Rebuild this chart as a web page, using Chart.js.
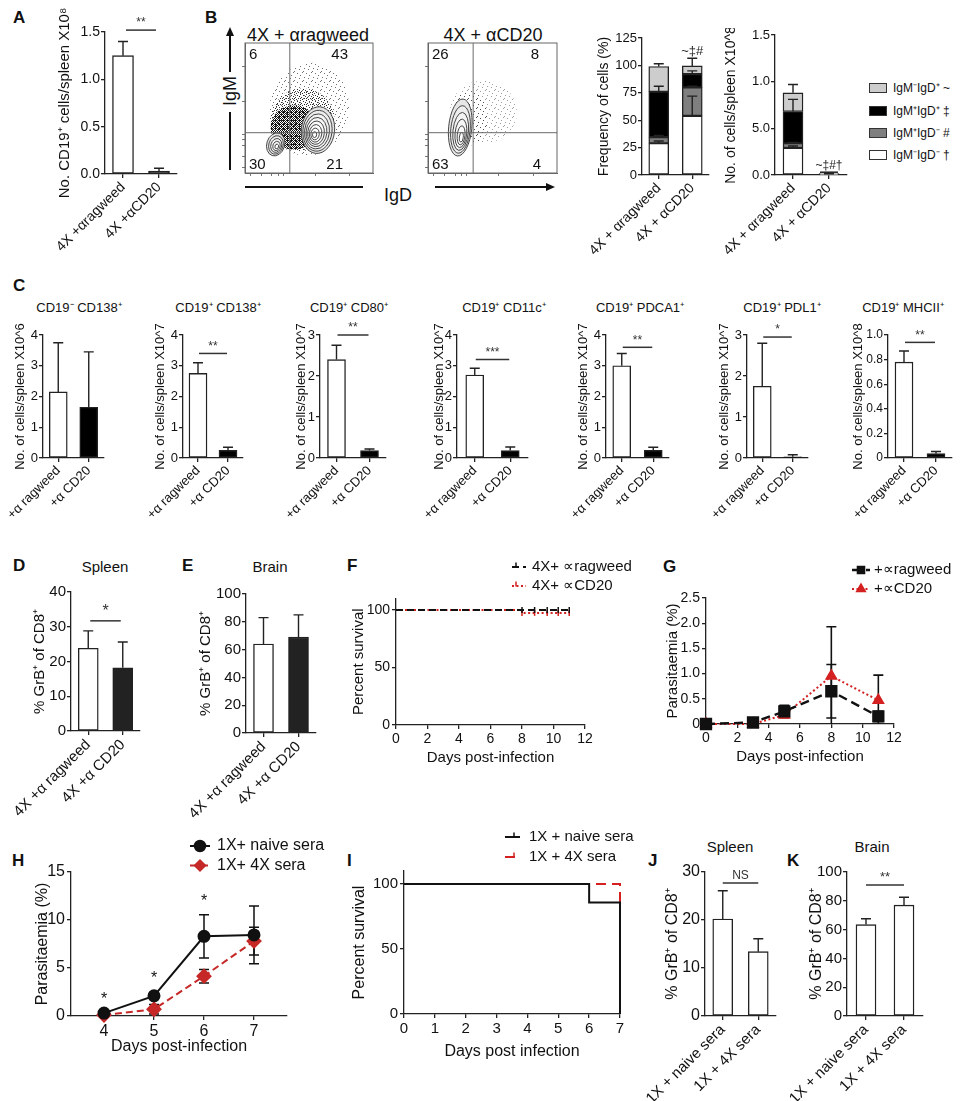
<!DOCTYPE html>
<html>
<head>
<meta charset="utf-8">
<title>B cell depletion figure</title>
<script src="https://cdn.jsdelivr.net/npm/chart.js@4.4.1/dist/chart.umd.min.js"></script>
<style>
  body { margin: 0; background: #fff; }
  #fig { position: relative; width: 963px; height: 1101px; overflow: hidden; background: #fff;
         font-family: 'Liberation Sans', Arial, Helvetica, sans-serif; color: #111; }
  .t { position: absolute; white-space: nowrap; transform: translate(-50%, -50%); line-height: 1; }
  .lt { position: absolute; font-weight: bold; font-size: 17px; line-height: 1; }
  .ln { position: absolute; background: #111; }
  canvas { position: absolute; }
</style>
</head>
<body>
<div id="fig"></div>
<script>
// --- Data ---

// A: CD19+ cells per spleen (x10^8)
const aGroups = ['4X +αragweed', '4X +αCD20'];
const aCells = [1.25, 0.03];
const aCellsErr = [0.15, 0.03];
const aSig = '**';
const aSigY = 1.52;

// B: flow plots (IgD on x, IgM on y, axis units 0-100)
const flowTitles = ['4X + αragweed', '4X + αCD20'];
const flowRagweedQuads = ['6', '43', '30', '21'];
const flowCD20Quads = ['26', '8', '63', '4'];
const flowGate = [35, 31];
const flowTicks = [4, 13, 21, 26, 30, 55, 82];
// cell clouds: [centre x, centre y, radius x, radius y, tilt]
const flowRagweedCloud = [[50, 49, 31, 36, 0.2], [45, 41, 25, 24, 0], [38, 35, 18, 17, 0]];
const flowCD20Cloud = [[43, 47, 26, 24, 0], [32, 42, 14, 21, 0]];
// contour peaks: [centre x, centre y, radius x, radius y, tilt, rings, shift x, shift y]
const flowRagweedPeaks = [[57, 33, 13, 18, 0.1, 8, -3, -4], [24, 22, 7, 9, 0.3, 5, 1, -2]];
const flowCD20Peaks = [[25, 35, 9, 22, 0.1, 6, 1, -9]];

// B: IgM/IgD subsets, listed bottom to top of the stack
const bGroups = ['4X + αragweed', '4X + αCD20'];
const bSubsets = ['IgM⁻IgD⁻ †', 'IgM⁺IgD⁻ #', 'IgM⁺IgD⁺ ‡', 'IgM⁻IgD⁺ ~'];
const bFreqMnegDneg = [29, 54];
const bFreqMposDneg = [5.5, 26];
const bFreqMposDpos = [41.5, 12];
const bFreqMnegDpos = [23, 7.5];
const bFreqMnegDnegErr = [2, 18];
const bFreqMposDnegErr = [1.5, 1];
const bFreqMposDposErr = [5, 3];
const bFreqMnegDposErr = [2.5, 7];
const bFreqNote = '~‡#';
const bCountMnegDneg = [0.29, 0.004];
const bCountMposDneg = [0.05, 0.002];
const bCountMposDpos = [0.34, 0.004];
const bCountMnegDpos = [0.20, 0.004];
const bCountMnegDnegErr = [0.02, 0];
const bCountMposDnegErr = [0.01, 0];
const bCountMposDposErr = [0.13, 0.002];
const bCountMnegDposErr = [0.09, 0.004];
const bCountTickText = ['0.0', '5.0', '1.0', '1.5'];
const bCountNote = '~‡#†';

// C: B cell subsets per spleen
const cGroups = ['+α ragweed', '+α CD20'];
const cTitles = ['CD19⁻ CD138⁺', 'CD19⁺ CD138⁺', 'CD19⁺ CD80⁺', 'CD19⁺ CD11c⁺', 'CD19⁺ PDCA1⁺', 'CD19⁺ PDL1⁺', 'CD19⁺ MHCII⁺'];
const cUnits = ['X10^6', 'X10^7', 'X10^7', 'X10^7', 'X10^7', 'X10^7', 'X10^8'];
const cRagweed = [2.15, 2.75, 2.4, 2.7, 3.0, 1.75, 0.78];
const cRagweedErr = [1.6, 0.35, 0.35, 0.22, 0.4, 1.05, 0.09];
const cCD20 = [1.65, 0.25, 0.18, 0.24, 0.25, 0.03, 0.035];
const cCD20Err = [1.8, 0.1, 0.04, 0.12, 0.1, 0.05, 0.018];
const cYMax = [4, 4, 3, 4, 4, 3, 1.0];
const cYStep = [1, 1, 1, 1, 1, 1, 0.2];
const cSig = ['', '**', '**', '***', '**', '*', '**'];
const cSigY = [0, 3.4, 3.0, 3.2, 3.6, 2.95, 0.94];

// D/E: % GrB+ of CD8+
const deGroups = ['4X +α ragweed', '4X +α CD20'];
const dGrB = [23.8, 18.2];
const dGrBErr = [5, 7.4];
const dSigY = 31.7;
const eGrB = [64, 69];
const eGrBErr = [19, 16];

// F: survival after depletion
const fSeries = ['4X+ ∝ragweed', '4X+ ∝CD20'];
const fRagweedDays = [0, 8, 8.8, 9.6, 10.3, 11];
const fRagweedSurv = [100, 100, 100, 100, 100, 100];
const fCD20Days = [0, 8, 8.8, 9.6, 10.3, 11];
const fCD20Surv = [100, 97.5, 97.5, 97.5, 97.5, 97.5];
const survivalTicks = [0, 50, 100];

// G: parasitaemia after depletion
const gSeries = ['+∝ragweed', '+∝CD20'];
const gDays = [0, 3, 5, 8, 11];
const gRagweed = [0, 0.03, 0.25, 0.65, 0.15];
const gRagweedErr = [0, 0.02, 0.12, 0.53, 0.1];
const gCD20 = [0, 0, 0.18, 0.95, 0.47];
const gCD20Err = [0, 0, 0.05, 0.98, 0.5];

// H: parasitaemia after serum transfer
const hSeries = ['1X+ naive sera', '1X+ 4X sera'];
const hDays = [4, 5, 6, 7];
const hNaive = [0.3, 2.1, 8.3, 8.45];
const hNaiveErr = [0.2, 0.35, 2.25, 3.0];
const h4X = [0.1, 0.7, 4.15, 7.8];
const h4XErr = [0.05, 0.5, 0.7, 1.45];
const hStarY = [1.7, 3.85, 11.9];

// I: survival after serum transfer
const iSeries = ['1X + naive sera', '1X + 4X sera'];
const iNaiveDays = [0, 6, 7];
const iNaive = [100, 85.7, 0];
const i4XDays = [0, 7, 7];
const i4X = [100, 100, 0];

// J/K: % GrB+ of CD8+ after serum transfer
const jkGroups = ['1X + naive sera', '1X + 4X sera'];
const jGrB = [20.2, 13.4];
const jGrBErr = [5.9, 2.7];
const jSig = 'NS';
const jSigY = 27.7;
const kGrB = [63.5, 77];
const kGrBErr = [4, 5.5];
const kSig = '**';
const kSigY = 91;

// --- Plugins ---
const FONT = "'Liberation Sans', Arial, Helvetica, sans-serif";
Chart.defaults.font.family = FONT;
Chart.defaults.color = '#111';

function drawErrors(chart) {
  const { ctx, scales: { y } } = chart;
  chart.data.datasets.forEach((ds, di) => {
    if (!ds.err) return;
    const meta = chart.getDatasetMeta(di);
    ctx.save();
    ctx.setLineDash([]);
    ctx.strokeStyle = ds.errColor || '#222';
    ctx.lineWidth = ds.errWidth || 1.4;
    meta.data.forEach((el, i) => {
      const e = ds.err[i];
      if (!e) return;
      const v = y.getValueForPixel(el.y);
      const cap = ds.errCap || 5;
      const top = y.getPixelForValue(v + e);
      ctx.beginPath();
      ctx.moveTo(el.x, el.y); ctx.lineTo(el.x, top);
      ctx.moveTo(el.x - cap, top); ctx.lineTo(el.x + cap, top);
      if (ds.errBoth) {
        const bot = y.getPixelForValue(Math.max(v - e, y.min));
        ctx.moveTo(el.x, el.y); ctx.lineTo(el.x, bot);
        if (v - e > y.min) { ctx.moveTo(el.x - cap, bot); ctx.lineTo(el.x + cap, bot); }
      }
      ctx.stroke();
    });
    ctx.restore();
  });
}

const errorBars = {
  id: 'errorBars',
  beforeDatasetsDraw(chart, args, o) { if (o.before) drawErrors(chart); },
  afterDatasetsDraw(chart, args, o) { if (!o.before) drawErrors(chart); }
};

// significance bars, stars and notes
const marks = {
  id: 'marks',
  afterDatasetsDraw(chart, args, o) {
    if (!o.items) return;
    const { ctx, scales: { x, y } } = chart;
    o.items.forEach(m => {
      ctx.save();
      ctx.fillStyle = ctx.strokeStyle = m.color || '#333';
      ctx.font = (m.size || 12) + 'px ' + FONT;
      ctx.textAlign = 'center';
      const py = y.getPixelForValue(m.y);
      if (m.x1 !== undefined) {
        const a = x.getPixelForValue(m.x0) + (m.inset || 0);
        const b = x.getPixelForValue(m.x1) - (m.inset || 0);
        ctx.lineWidth = 1.5;
        ctx.beginPath(); ctx.moveTo(a, py); ctx.lineTo(b, py); ctx.stroke();
        ctx.textBaseline = 'bottom';
        ctx.fillText(m.text, (a + b) / 2, py - 1);
      } else {
        ctx.textBaseline = 'middle';
        ctx.fillText(m.text, x.getPixelForValue(m.x), py);
      }
      ctx.restore();
    });
  }
};

// small legend drawn from the dataset styles, placed in page pixels
const key = {
  id: 'key',
  afterDraw(chart, args, o) {
    if (!o.rows) return;
    const ctx = chart.ctx;
    const ox = parseFloat(chart.canvas.style.left), oy = parseFloat(chart.canvas.style.top);
    o.rows.forEach((row, i) => {
      const ds = chart.data.datasets[i];
      const y = o.y + i * o.dy - oy, x0 = o.x - ox, x1 = x0 + o.len;
      ctx.save();
      ctx.strokeStyle = ds.borderColor;
      ctx.lineWidth = ds.borderWidth;
      ctx.setLineDash(ds.borderDash || []);
      ctx.beginPath(); ctx.moveTo(x0, y); ctx.lineTo(x1, y); ctx.stroke();
      ctx.setLineDash([]);
      ctx.fillStyle = ds.pointBackgroundColor || ds.borderColor;
      ctx.lineWidth = 1.5;
      Chart.helpers.drawPoint(ctx, { pointStyle: ds.pointStyle, radius: o.radius, rotation: ds.rotation || 0, borderWidth: 1 },
        o.mx !== undefined ? x0 + o.mx : (x0 + x1) / 2, o.my !== undefined ? y + o.my : y);
      ctx.fillStyle = '#111';
      ctx.font = o.size + 'px ' + FONT;
      ctx.textBaseline = 'middle';
      ctx.fillText(row, x1 + o.gap, y);
      ctx.restore();
    });
  }
};

// stipple textures for the flow clouds
const tiles = {};
function tile(name) {
  if (tiles[name]) return tiles[name];
  const spec = {
    sparse: [9, [[1, 1], [5, 2], [8, 5], [3, 6], [6, 8], [0, 4]]],
    medium: [6, [[0, 0], [3, 1], [1, 3], [4, 4], [5, 2], [2, 5], [0, 4]]],
    dense: [4, [[0, 0], [1, 1], [2, 2], [3, 3], [0, 2], [2, 0], [1, 3], [3, 1], [3, 0]]]
  }[name];
  const c = document.createElement('canvas');
  c.width = c.height = spec[0];
  const g = c.getContext('2d');
  g.fillStyle = '#111';
  spec[1].forEach(([px, py]) => g.fillRect(px, py, 1, 1));
  tiles[name] = c;
  return c;
}

const flow = {
  id: 'flow',
  beforeDatasetsDraw(chart, args, o) {
    if (!o.clouds) return;
    const { ctx, chartArea: a, scales: { x, y } } = chart;
    const ell = (cx, cy, rx, ry, rot) => {
      ctx.beginPath();
      ctx.ellipse(x.getPixelForValue(cx), y.getPixelForValue(cy),
        Math.abs(x.getPixelForValue(cx + rx) - x.getPixelForValue(cx)),
        Math.abs(y.getPixelForValue(cy + ry) - y.getPixelForValue(cy)), rot || 0, 0, Math.PI * 2);
    };
    ctx.save();
    ctx.beginPath(); ctx.rect(a.left, a.top, a.width, a.height); ctx.clip();
    o.clouds.forEach((c, i) => {
      ctx.fillStyle = ctx.createPattern(tile(o.density[i]), 'repeat');
      ctx.globalAlpha = o.alpha[i];
      ell(c[0], c[1], c[2], c[3], c[4]);
      ctx.fill();
    });
    ctx.globalAlpha = 1;
    o.peaks.forEach(p => {
      const n = p[5];
      for (let k = n; k >= 1; k--) {
        const f = k / n;
        ell(p[0] + (1 - f) * p[6], p[1] + (1 - f) * p[7], p[2] * f, p[3] * f, p[4]);
        ctx.fillStyle = k === n ? 'rgba(230,230,230,0.95)' : (k === 1 ? '#fff' : 'rgba(255,255,255,0.3)');
        ctx.fill();
        ctx.strokeStyle = '#333';
        ctx.lineWidth = 0.9;
        ctx.stroke();
      }
    });
    ctx.restore();
  },
  afterDraw(chart, args, o) {
    if (!o.quads) return;
    const { ctx, chartArea: a } = chart;
    ctx.save();
    ctx.strokeStyle = '#666';
    ctx.lineWidth = 1;
    ctx.strokeRect(a.left, a.top, a.width, a.height);
    ctx.fillStyle = '#111';
    ctx.font = '15px ' + FONT;
    ctx.textBaseline = 'top';
    ctx.textAlign = 'left'; ctx.fillText(o.quads[0], a.left + 4, a.top + 4);
    ctx.textAlign = 'right'; ctx.fillText(o.quads[1], a.right - o.inset[0], a.top + 4);
    ctx.textBaseline = 'bottom';
    ctx.textAlign = 'left'; ctx.fillText(o.quads[2], a.left + 4, a.bottom - 1);
    ctx.textAlign = 'right'; ctx.fillText(o.quads[3], a.right - o.inset[1], a.bottom - 1);
    ctx.restore();
  }
};

Chart.register(errorBars, marks, key, flow);

// --- Helpers ---
const fig = document.getElementById('fig');
const xy = (xs, ys) => xs.map((v, i) => ({ x: v, y: ys[i] }));

function text(str, x, y, size, extra) {
  const d = document.createElement('div');
  d.className = 't';
  d.textContent = str;
  d.style.left = x + 'px';
  d.style.top = y + 'px';
  d.style.fontSize = size + 'px';
  if (extra) Object.assign(d.style, extra);
  fig.appendChild(d);
  return d;
}

function letter(ch, x, capTop) {
  const d = document.createElement('div');
  d.className = 'lt';
  d.textContent = ch;
  d.style.left = x + 'px';
  d.style.top = (capTop - 3) + 'px';
  fig.appendChild(d);
}

function rule(l, t, w, h) {
  const d = document.createElement('div');
  d.className = 'ln';
  Object.assign(d.style, { left: l + 'px', top: t + 'px', width: w + 'px', height: h + 'px' });
  fig.appendChild(d);
  return d;
}

// area = plot area in page pixels, box = canvas in page pixels
function panel(area, box, cfg, yTitle, xTitle) {
  const [l, t, r, b] = area, [cl, ct, cr, cb] = box;
  const cv = document.createElement('canvas');
  cv.width = cr - cl;
  cv.height = cb - ct;
  cv.style.left = cl + 'px';
  cv.style.top = ct + 'px';
  fig.appendChild(cv);
  const o = cfg.options;
  Object.assign(o, { responsive: false, animation: false, devicePixelRatio: 1, events: [] });
  o.layout = { autoPadding: false, padding: { left: 0, top: t - ct, right: cr - r, bottom: 0 } };
  o.plugins = Object.assign({ legend: { display: false }, tooltip: { enabled: false } }, o.plugins);
  const sx = o.scales.x, sy = o.scales.y;
  sx.afterFit = s => { s.height = cb - b; s.paddingLeft = 0; s.paddingRight = 0; };
  sy.afterFit = s => { s.width = l - cl; s.paddingTop = 0; s.paddingBottom = 0; };
  if (yTitle) {
    sy.title = { display: true, text: yTitle.text, color: '#111', font: { size: yTitle.size },
      padding: { top: yTitle.x - yTitle.size * 0.6 - cl, bottom: 0 } };
  }
  if (xTitle) {
    sx.title = { display: true, text: xTitle.text, color: '#111', font: { size: xTitle.size },
      padding: { top: 0, bottom: cb - xTitle.y - xTitle.size * 0.6 } };
  }
  return new Chart(cv, cfg);
}

function axisGrid() {
  return { drawOnChartArea: false, drawTicks: true, tickLength: 4, color: '#222', lineWidth: 1.3, offset: false };
}
function axisBorder() {
  return { color: '#222', width: 1.3 };
}
function catAxis(size, stacked) {
  return { type: 'category', offset: true, stacked: !!stacked, grid: axisGrid(), border: axisBorder(),
    ticks: { font: { size }, minRotation: 45, maxRotation: 45, autoSkip: false, padding: 1, color: '#111' } };
}
function valAxis(max, step, size, fmt, stacked) {
  return { type: 'linear', min: 0, max, stacked: !!stacked, grid: axisGrid(), border: axisBorder(),
    ticks: { stepSize: step, font: { size }, padding: 1, color: '#111', callback: fmt } };
}
function linAxis(min, max, step, size, list) {
  const s = { type: 'linear', min, max, grid: axisGrid(), border: axisBorder(),
    ticks: { stepSize: step, font: { size }, padding: 2, color: '#111' } };
  if (list) s.afterBuildTicks = sc => { sc.ticks = list.map(v => ({ value: v })); };
  return s;
}
function barStyle(w) {
  return { borderColor: '#222', borderWidth: 1.4, borderSkipped: false, barThickness: w, errCap: 5 };
}

// two-bar panel (white vs black or white vs white)
function twoBars(area, box, groups, values, errs, colors, o) {
  return panel(area, box, {
    type: 'bar',
    data: { labels: groups, datasets: [Object.assign({ data: values, err: errs, backgroundColor: colors }, barStyle(o.barW))] },
    options: {
      plugins: { marks: { items: o.marks || [] } },
      scales: { x: catAxis(o.xFont), y: valAxis(o.max, o.step, o.tickFont, o.fmt) }
    }
  }, o.yTitle);
}

// --- Panel letters and titles ---
letter('A', 13, 12); letter('B', 205, 12); letter('C', 13, 280);
letter('D', 13, 560); letter('E', 182, 560); letter('F', 347, 560); letter('G', 663, 561);
letter('H', 12, 855); letter('I', 347, 855); letter('J', 648, 855); letter('K', 787, 855);

// --- A ---
twoBars([105, 32, 177, 174], [50, 5, 185, 272], aGroups, aCells, aCellsErr, ['#fff', '#000'], {
  barW: 21, xFont: 14, tickFont: 14, max: 1.5, step: 0.5, fmt: v => v.toFixed(1),
  marks: [{ x0: 0, x1: 1, y: aSigY, text: aSig, inset: 3 }],
  yTitle: { text: 'No. CD19⁺ cells/spleen X10⁸', size: 15, x: 65 }
});

// --- B flow plots ---
text(flowTitles[0], 308, 35, 18);
text(flowTitles[1], 493, 35, 18);
text('IgM', 230, 91, 18, { transform: 'translate(-50%, -50%) rotate(-90deg)' });
rule(229.3, 33, 1.5, 39);
const upHead = rule(226, 27, 0, 0);
Object.assign(upHead.style, { background: 'none', borderLeft: '4px solid transparent', borderRight: '4px solid transparent', borderBottom: '9px solid #111' });
rule(229.3, 112, 1.5, 58);
text('IgD', 398, 195, 18);
rule(245, 186.3, 118, 1.5);
rule(435, 186.3, 112, 1.5);
const rightHead = rule(546, 183, 0, 0);
Object.assign(rightHead.style, { background: 'none', borderTop: '4px solid transparent', borderBottom: '4px solid transparent', borderLeft: '9px solid #111' });

function flowAxis() {
  return { type: 'linear', min: 0, max: 100,
    grid: { drawOnChartArea: false, tickLength: 3, color: '#777', lineWidth: 1 },
    border: { color: '#666', width: 1 },
    ticks: { callback: () => '', font: { size: 4 } },
    afterBuildTicks: s => { s.ticks = flowTicks.map(v => ({ value: v })); } };
}
function flowPanel(area, box, clouds, density, alpha, peaks, quads, inset) {
  const gateStyle = { showLine: true, borderColor: '#6a6a6a', borderWidth: 1, pointRadius: 0 };
  return panel(area, box, {
    type: 'scatter',
    data: { datasets: [
      Object.assign({ data: [{ x: flowGate[0], y: 0 }, { x: flowGate[0], y: 100 }] }, gateStyle),
      Object.assign({ data: [{ x: 0, y: flowGate[1] }, { x: 100, y: flowGate[1] }] }, gateStyle)
    ] },
    options: {
      plugins: { flow: { clouds, density, alpha, peaks, quads, inset } },
      scales: { x: flowAxis(), y: flowAxis() }
    }
  });
}
flowPanel([245, 43, 373, 173], [240, 40, 378, 178], flowRagweedCloud, ['sparse', 'medium', 'dense'], [0.6, 0.85, 1],
  flowRagweedPeaks, flowRagweedQuads, [25, 30]);
flowPanel([428, 43, 557, 173], [423, 40, 562, 178], flowCD20Cloud, ['sparse', 'sparse'], [0.4, 0.55],
  flowCD20Peaks, flowCD20Quads, [18, 16]);

// --- B stacked bars ---
const stackColors = ['#ffffff', '#7f7f7f', '#000000', '#cdcdcd'];
function stackedBars(area, box, values, errs, max, step, fmt, items, yTitle) {
  return panel(area, box, {
    type: 'bar',
    data: { labels: bGroups, datasets: values.map((d, i) => Object.assign({
      data: d, err: errs[i], backgroundColor: stackColors[i], errColor: '#222' }, barStyle(20))) },
    options: {
      plugins: { marks: { items } },
      scales: { x: catAxis(14, true), y: valAxis(max, step, 13, fmt, true) }
    }
  }, yTitle);
}
stackedBars([642, 38, 709, 175], [585, 30, 716, 272],
  [bFreqMnegDneg, bFreqMposDneg, bFreqMposDpos, bFreqMnegDpos],
  [bFreqMnegDnegErr, bFreqMposDnegErr, bFreqMposDposErr, bFreqMnegDposErr],
  125, 25, v => v, [{ x: 1, y: 113, text: bFreqNote, size: 13, color: '#222' }],
  { text: 'Frequency of cells (%)', size: 14, x: 604 });
stackedBars([775, 35, 847, 175], [718, 28, 858, 272],
  [bCountMnegDneg, bCountMposDneg, bCountMposDpos, bCountMnegDpos],
  [bCountMnegDnegErr, bCountMposDnegErr, bCountMposDposErr, bCountMnegDposErr],
  1.5, 0.5, (v, i) => bCountTickText[i], [{ x0: 0.75, x1: 1.25, y: 0.03, text: bCountNote, size: 12, color: '#222' }],
  { text: 'No. of cells/spleen X10^8', size: 14, x: 731 });

// B legend, top row is the top of the stack
const legendRowY = [155, 133, 111, 88];
bSubsets.forEach((name, i) => {
  const sw = rule(869, legendRowY[i] - 5, 16, 8);
  Object.assign(sw.style, { background: stackColors[i], border: '1px solid #333' });
  const t = text(name, 893, legendRowY[i], 12);
  t.style.transform = 'translate(0, -50%)';
});

// --- C ---
const cAxisL = [43, 183, 320, 457, 606, 747, 888];
const cAxisR = [104, 243, 386, 528, 669, 808, 952];
const cTitleX = [79, 218, 349, 504, 640, 782, 903];
const cYTitleX = [20, 160, 301, 439, 583, 724, 858];
cTitles.forEach((title, i) => {
  text(title, cTitleX[i], 307, 13);
  const fmt = cYStep[i] < 1 ? (v => v === 0 ? '0' : v.toFixed(1)) : (v => v);
  const items = cSig[i] ? [{ x0: 0, x1: 1, y: cSigY[i], text: cSig[i], inset: 1 }] : [];
  twoBars([cAxisL[i], 335, cAxisR[i], 458], [cYTitleX[i] - 18, 318, cAxisR[i] + 8, 530],
    cGroups, [cRagweed[i], cCD20[i]], [cRagweedErr[i], cCD20Err[i]], ['#fff', '#000'], {
      barW: 18, xFont: 13, tickFont: cYStep[i] < 1 ? 12 : 13, max: cYMax[i], step: cYStep[i], fmt, marks: items,
      yTitle: { text: 'No. of cells/spleen ' + cUnits[i], size: 13, x: cYTitleX[i] }
    });
});

// --- D / E ---
text('Spleen', 105, 566, 15);
text('Brain', 270, 566, 15);
twoBars([71, 592, 140, 731], [10, 580, 150, 822], deGroups, dGrB, dGrBErr, ['#fff', '#222'], {
  barW: 20, xFont: 15, tickFont: 15, max: 40, step: 10, fmt: v => v,
  marks: [{ x0: 0, x1: 1, y: dSigY, text: '*', inset: 2, size: 16 }],
  yTitle: { text: '% GrB⁺ of CD8⁺', size: 15, x: 40 }
});
twoBars([246, 594, 316, 733], [186, 580, 326, 822], deGroups, eGrB, eGrBErr, ['#fff', '#222'], {
  barW: 20, xFont: 15, tickFont: 15, max: 100, step: 20, fmt: v => v,
  yTitle: { text: '% GrB⁺ of CD8⁺', size: 15, x: 206 }
});

// --- F ---
panel([396, 598.5, 585, 725], [345, 550, 640, 772], {
  type: 'line',
  data: { datasets: [
    { data: xy(fRagweedDays, fRagweedSurv), stepped: true, borderColor: '#111', borderWidth: 2, borderDash: [7, 4],
      pointStyle: 'line', rotation: 90, pointRadius: [0, 3, 3, 3, 3, 3], pointBorderColor: '#111', pointBorderWidth: 1.5, clip: false },
    { data: xy(fCD20Days, fCD20Surv), stepped: true, borderColor: '#d42020', borderWidth: 2, borderDash: [2, 2.5],
      pointStyle: 'line', rotation: 90, pointRadius: [0, 3, 3, 3, 3, 3], pointBorderColor: '#d42020', pointBorderWidth: 1.5, clip: false }
  ] },
  options: {
    plugins: { key: { rows: fSeries, x: 512, y: 567, dy: 19, len: 14, gap: 6, size: 15, radius: 2.5, mx: 4, my: -2 } },
    scales: { x: linAxis(0, 12, 2, 14), y: linAxis(0, 110, 50, 14, survivalTicks) }
  }
}, { text: 'Percent survival', size: 15, x: 359 }, { text: 'Days post-infection', size: 15, y: 758 });

// --- G ---
panel([706, 598, 894, 724], [655, 550, 963, 772], {
  type: 'line',
  data: { datasets: [
    { data: xy(gDays, gRagweed), err: gRagweedErr, errBoth: true, errColor: '#111', errWidth: 1.6,
      borderColor: '#111', borderWidth: 2.4, borderDash: [9, 5], tension: 0,
      pointStyle: 'rect', pointRadius: 7, pointBackgroundColor: '#111', pointBorderColor: '#111', clip: false },
    { data: xy(gDays, gCD20), err: gCD20Err, errBoth: true, errColor: '#111', errWidth: 1.6,
      borderColor: '#d42020', borderWidth: 2, borderDash: [2, 2.5], tension: 0,
      pointStyle: 'triangle', pointRadius: 5.5, pointBackgroundColor: '#d42020', pointBorderColor: '#d42020', clip: false }
  ] },
  options: {
    plugins: { errorBars: { before: true }, key: { rows: gSeries, x: 852, y: 570, dy: 19, len: 18, gap: 4, size: 15, radius: 5 } },
    scales: { x: linAxis(0, 12, 2, 14), y: linAxis(0, 2.5, 0.5, 14) }
  }
}, { text: 'Parasitaemia (%)', size: 15, x: 673 }, { text: 'Days post-infection', size: 15, y: 757 });

// --- H ---
panel([71, 872, 287, 1016], [20, 830, 340, 1068], {
  type: 'line',
  data: { datasets: [
    { data: xy(hDays, hNaive), err: hNaiveErr, errBoth: true, errColor: '#111', errWidth: 1.5,
      borderColor: '#111', borderWidth: 2, tension: 0,
      pointStyle: 'circle', pointRadius: 5.5, pointBackgroundColor: '#111', pointBorderColor: '#111', clip: false },
    { data: xy(hDays, h4X), err: h4XErr, errBoth: true, errColor: '#111', errWidth: 1.5,
      borderColor: '#c62828', borderWidth: 2, borderDash: [7, 4], tension: 0,
      pointStyle: 'rectRot', pointRadius: 6.5, pointBackgroundColor: '#c62828', pointBorderColor: '#c62828', clip: false }
  ] },
  options: {
    plugins: {
      errorBars: { before: true },
      marks: { items: hStarY.map((v, i) => ({ x: hDays[i], y: v, text: '*', size: 16, color: '#111' })) },
      key: { rows: hSeries, x: 190, y: 846, dy: 19.5, len: 20, gap: 7, size: 16, radius: 5.5 }
    },
    scales: { x: linAxis(3.34, 7.66, 1, 16, hDays), y: linAxis(0, 15, 5, 16) }
  }
}, { text: 'Parasitaemia (%)', size: 16, x: 43 }, { text: 'Days post-infection', size: 16, y: 1047 });

// --- I ---
panel([404, 871, 620, 1014], [350, 825, 650, 1070], {
  type: 'line',
  data: { datasets: [
    { data: xy(iNaiveDays, iNaive), stepped: true, borderColor: '#111', borderWidth: 2,
      pointStyle: 'line', rotation: 90, pointRadius: 0, clip: false },
    { data: xy(i4XDays, i4X), stepped: true, borderColor: '#d42020', borderWidth: 2, borderDash: [10, 6],
      pointStyle: 'line', rotation: 90, pointRadius: 0, clip: false }
  ] },
  options: {
    plugins: { key: { rows: iSeries, x: 505, y: 837, dy: 20, len: 15, gap: 9, size: 15, radius: 2.5, mx: 9, my: -2 } },
    scales: { x: linAxis(0, 7, 1, 15), y: linAxis(0, 110, 50, 15, survivalTicks) }
  }
}, { text: 'Percent survival', size: 16, x: 360 }, { text: 'Days post infection', size: 16, y: 1052 });

// --- J / K ---
text('Spleen', 730, 846, 15);
text('Brain', 872, 846, 15);
twoBars([705, 872, 776, 1016], [640, 860, 785, 1101], jkGroups, jGrB, jGrBErr, ['#fff', '#fff'], {
  barW: 20, xFont: 15, tickFont: 16, max: 30, step: 10, fmt: v => v,
  marks: [{ x0: 0, x1: 1, y: jSigY, text: jSig, inset: 0, size: 12 }],
  yTitle: { text: '% GrB⁺ of CD8⁺', size: 16, x: 673 }
});
twoBars([847, 872, 923, 1016], [785, 860, 935, 1101], jkGroups, kGrB, kGrBErr, ['#fff', '#fff'], {
  barW: 20, xFont: 15, tickFont: 15, max: 100, step: 20, fmt: v => v,
  marks: [{ x0: 0, x1: 1, y: kSigY, text: kSig, inset: 0, size: 13 }],
  yTitle: { text: '% GrB⁺ of CD8⁺', size: 16, x: 817 }
});
</script>
</body>
</html>
